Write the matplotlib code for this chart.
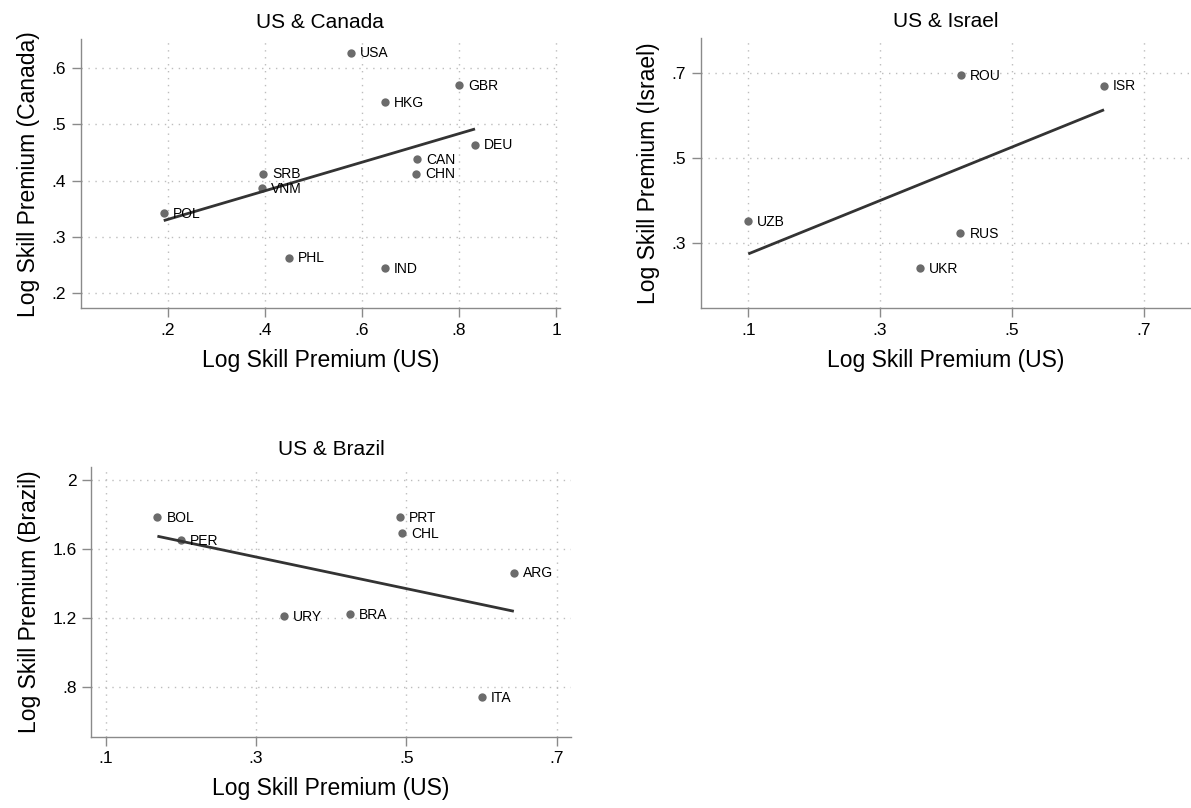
import matplotlib
matplotlib.use("Agg")
import matplotlib.pyplot as plt
import numpy as np

plt.rcParams['font.family'] = ['Liberation Sans', 'DejaVu Sans']

# --- data -------------------------------------------------------------
canada_codes = ['USA', 'GBR', 'HKG', 'DEU', 'CAN', 'CHN', 'SRB', 'VNM', 'POL', 'PHL', 'IND']
canada_us = [0.578, 0.800, 0.647, 0.833, 0.713, 0.711, 0.396, 0.394, 0.192, 0.449, 0.647]
canada_dest = [0.627, 0.569, 0.539, 0.4635, 0.438, 0.412, 0.412, 0.386, 0.342, 0.263, 0.244]

israel_codes = ['ROU', 'ISR', 'UZB', 'RUS', 'UKR']
israel_us = [0.423, 0.640, 0.100, 0.422, 0.360]
israel_dest = [0.695, 0.671, 0.351, 0.322, 0.239]

brazil_codes = ['BOL', 'PER', 'PRT', 'CHL', 'ARG', 'URY', 'BRA', 'ITA']
brazil_us = [0.169, 0.200, 0.491, 0.494, 0.643, 0.337, 0.425, 0.600]
brazil_dest = [1.789, 1.654, 1.788, 1.693, 1.465, 1.215, 1.225, 0.742]

canada_xticks = [0.2, 0.4, 0.6, 0.8, 1.0]
canada_yticks = [0.2, 0.3, 0.4, 0.5, 0.6]
israel_xticks = [0.1, 0.3, 0.5, 0.7]
israel_yticks = [0.3, 0.5, 0.7]
brazil_xticks = [0.1, 0.3, 0.5, 0.7]
brazil_yticks = [0.8, 1.2, 1.6, 2.0]

# --- style ------------------------------------------------------------
W, H = 1191, 808
marker_color = '#6b6b6b'
line_color = '#333333'
axis_color = '#8a8a8a'
grid_color = '#bdbdbd'


def stata_label(v):
    s = f"{v:g}"
    if s.startswith('0.'):
        s = s[1:]
    return s


def make_axes(fig, left, right, top, bottom):
    # pixel box -> figure fraction
    return fig.add_axes([left / W, 1 - bottom / H, (right - left) / W, (bottom - top) / H])


def panel(ax, title, ylabel, xs, ys, codes, xticks, yticks, xlim, ylim):
    ax.set_xlim(*xlim)
    ax.set_ylim(*ylim)
    ax.set_xticks(xticks)
    ax.set_yticks(yticks)
    ax.set_xticklabels([stata_label(v) for v in xticks])
    ax.set_yticklabels([stata_label(v) for v in yticks])
    ax.tick_params(axis='both', direction='out', length=6.5, width=1,
                   color=axis_color, labelsize=12.5, pad=4)
    for side in ('top', 'right'):
        ax.spines[side].set_visible(False)
    for side in ('left', 'bottom'):
        ax.spines[side].set_color(axis_color)
        ax.spines[side].set_linewidth(1.0)
    ax.grid(True, color=grid_color, linestyle=(0, (1, 4)), linewidth=1)
    ax.set_axisbelow(True)

    ax.scatter(xs, ys, s=36, color=marker_color, zorder=3, linewidths=0)
    for x, y, c in zip(xs, ys, codes):
        ax.annotate(c, (x, y), xytext=(6.5, -0.5), textcoords='offset points',
                    ha='left', va='center', fontsize=10, zorder=4)

    # linear fit across the observed range
    slope, intercept = np.polyfit(xs, ys, 1)
    fx = np.array([min(xs), max(xs)])
    ax.plot(fx, intercept + slope * fx, color=line_color, linewidth=2, zorder=3,
            solid_capstyle='butt')

    ax.set_title(title, fontsize=15, pad=8)
    ax.set_xlabel('Log Skill Premium (US)', fontsize=16.5, labelpad=8)
    ax.set_ylabel(ylabel, fontsize=16.5, labelpad=8)


fig = plt.figure(figsize=(W / 100, H / 100), dpi=100)

ax1 = make_axes(fig, 80.7, 560, 39.2, 308.3)
panel(ax1, 'US & Canada', 'Log Skill Premium (Canada)', canada_us, canada_dest, canada_codes,
      canada_xticks, canada_yticks, (0.021, 1.008), (0.173, 0.651))

ax2 = make_axes(fig, 700.7, 1191, 37.7, 308.3)
panel(ax2, 'US & Israel', 'Log Skill Premium (Israel)', israel_us, israel_dest, israel_codes,
      israel_xticks, israel_yticks, (0.0278, 0.772), (0.145, 0.784))

ax3 = make_axes(fig, 91, 571, 466.5, 736.7)
panel(ax3, 'US & Brazil', 'Log Skill Premium (Brazil)', brazil_us, brazil_dest, brazil_codes,
      brazil_xticks, brazil_yticks, (0.0807, 0.719), (0.514, 2.081))

fig.savefig('out.png', dpi=100, facecolor='white')
